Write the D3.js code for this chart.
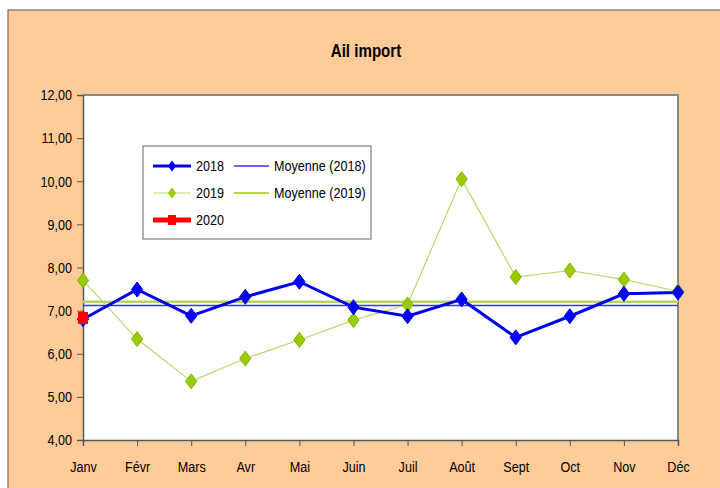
<!DOCTYPE html>
<html><head><meta charset="utf-8">
<script src="https://cdn.jsdelivr.net/npm/d3@7"></script>
<style>body{margin:0;background:#fff}svg{display:block}</style>
</head><body>
<script>
const months = ["Janv","Févr","Mars","Avr","Mai","Juin","Juil","Août","Sept","Oct","Nov","Déc"];
const v2018 = [6.80,7.49,6.88,7.32,7.67,7.08,6.87,7.26,6.38,6.87,7.39,7.42];
const v2019 = [7.70,6.34,5.36,5.89,6.32,6.78,7.14,10.05,7.78,7.93,7.72,7.45];
const v2020 = [6.83];
const yTicks = [4,5,6,7,8,9,10,11,12];
const title = "Ail import";

const W=720,H=488;
const font = "'Liberation Sans Narrow','Arial Narrow','Liberation Sans',Arial,sans-serif";
const SX = 0.84;
const svg = d3.select("body").append("svg").attr("width",W).attr("height",H);
svg.append("rect").attr("x",0).attr("y",0).attr("width",W).attr("height",H).attr("fill","#fff");
svg.append("rect").attr("x",8).attr("y",10).attr("width",W).attr("height",H).attr("fill","#ffcc99").attr("stroke","#555").attr("stroke-width",1);

const L=83,R=678,T=95,B=440;
const x = d3.scalePoint().domain(months).range([L,R]);
const y = d3.scaleLinear().domain([4,12]).range([B,T]);

svg.append("rect").attr("x",L).attr("y",T).attr("width",R-L).attr("height",B-T).attr("fill","#fff");
svg.append("path").attr("d",`M${L},${T}H${R}V${B}`).attr("fill","none").attr("stroke","#888").attr("stroke-width",2);

svg.append("text").attr("transform",`translate(366,57) scale(${SX},1)`).attr("text-anchor","middle")
  .attr("font-family",font).attr("font-weight","bold").attr("font-size",18).text(title);

const fmt = d => d3.format(".2f")(d).replace(".",",");
const ya = svg.append("g").attr("transform",`translate(${L},0)`)
  .call(d3.axisLeft(y).tickValues(yTicks).tickFormat(fmt).tickSize(6).tickPadding(4));
ya.select(".domain").attr("stroke","#555").attr("stroke-width",1.5);
ya.selectAll(".tick line").attr("stroke","#555");
ya.selectAll("text").attr("font-family",font).attr("font-size",15).attr("fill","#000")
  .attr("x",null).attr("transform",`translate(-11,0) scale(${SX},1)`);

const xa = svg.append("g").attr("transform",`translate(0,${B})`)
  .call(d3.axisBottom(x).tickSize(6).tickPadding(15));
xa.select(".domain").attr("stroke","#555").attr("stroke-width",1.5);
xa.selectAll(".tick line").attr("stroke","#555");
xa.selectAll("text").attr("font-family",font).attr("font-size",15).attr("fill","#000")
  .attr("transform",`scale(${SX},1)`);

const m2018 = d3.mean(v2018), m2019 = d3.mean(v2019);
svg.append("line").attr("x1",L).attr("x2",R).attr("y1",y(m2019)).attr("y2",y(m2019)).attr("stroke","#b5d65a").attr("stroke-width",2.5);
svg.append("line").attr("x1",L).attr("x2",R).attr("y1",y(m2018)).attr("y2",y(m2018)).attr("stroke","#3333ff").attr("stroke-width",1.5);

const line = d3.line().x((d,i)=>x(months[i])).y(d=>y(d));
const diamond = (cx,cy,r) => `M${cx},${cy-r}L${cx+r*0.75},${cy}L${cx},${cy+r}L${cx-r*0.75},${cy}Z`;

svg.append("path").datum(v2019).attr("d",line).attr("fill","none").attr("stroke","#b8d86b").attr("stroke-width",1.2);
svg.selectAll(".d19").data(v2019).join("path").attr("d",(d,i)=>diamond(x(months[i]),y(d),7.5))
  .attr("fill","#99cc00").attr("stroke","#88b000").attr("stroke-width",1);

svg.append("path").datum(v2018).attr("d",line).attr("fill","none").attr("stroke","#0000ee").attr("stroke-width",3);
svg.selectAll(".d18").data(v2018).join("path").attr("d",(d,i)=>diamond(x(months[i]),y(d),7.5))
  .attr("fill","#0000ff").attr("stroke","#0000cc").attr("stroke-width",1);

svg.selectAll(".d20").data(v2020).join("rect")
  .attr("x",(d,i)=>x(months[i])-5).attr("y",d=>y(d)-6).attr("width",10).attr("height",12).attr("fill","#ff0000");

const lg = svg.append("g");
lg.append("rect").attr("x",143).attr("y",146).attr("width",228).attr("height",93).attr("fill","#fff").attr("stroke","#666").attr("stroke-width",1);
const items = [
  {label:"2018", x1:153,x2:191,y:166,tx:196,stroke:"#0000ee",w:3,mk:"d",fill:"#0000ff"},
  {label:"2019", x1:153,x2:191,y:193,tx:196,stroke:"#b8d86b",w:1.2,mk:"d",fill:"#99cc00"},
  {label:"2020", x1:153,x2:191,y:220,tx:196,stroke:"#ff0000",w:5,mk:"s",fill:"#ff0000"},
  {label:"Moyenne (2018)", x1:234,x2:269,y:166,tx:274,stroke:"#3333ff",w:1.5,mk:null},
  {label:"Moyenne (2019)", x1:234,x2:269,y:193,tx:274,stroke:"#99cc00",w:1.5,mk:null}
];
items.forEach(it=>{
  lg.append("line").attr("x1",it.x1).attr("x2",it.x2).attr("y1",it.y).attr("y2",it.y).attr("stroke",it.stroke).attr("stroke-width",it.w);
  const cx=(it.x1+it.x2)/2;
  if(it.mk==="d") lg.append("path").attr("d",diamond(cx,it.y,5.5)).attr("fill",it.fill);
  if(it.mk==="s") lg.append("rect").attr("x",cx-4).attr("y",it.y-5).attr("width",8).attr("height",10).attr("fill",it.fill);
  lg.append("text").attr("transform",`translate(${it.tx},${it.y+5}) scale(${SX},1)`)
    .attr("font-family",font).attr("font-size",15).text(it.label);
});
</script>
</body></html>
